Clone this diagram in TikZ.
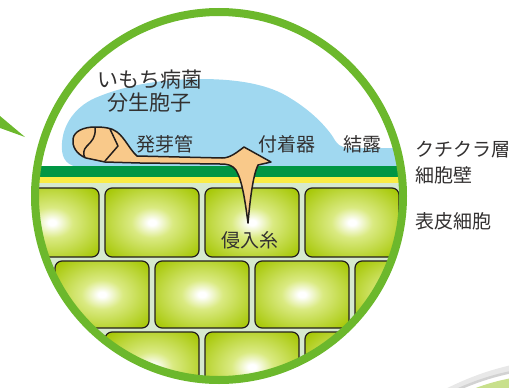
\documentclass[tikz,border=0pt]{standalone}
\usepackage{fontspec}
\newfontfamily\jp{Noto Sans CJK JP}
\definecolor{ring}{RGB}{108,184,44}
\definecolor{dew}{RGB}{160,216,240}
\definecolor{cuticle}{RGB}{0,150,68}
\definecolor{wall}{RGB}{250,236,70}
\definecolor{tissue}{RGB}{214,233,206}
\definecolor{cellgreen}{RGB}{164,198,0}
\definecolor{cellmid}{RGB}{218,234,130}
\definecolor{fungus}{RGB}{249,201,138}
\definecolor{ink}{RGB}{35,30,28}
\definecolor{label}{RGB}{50,48,48}
\definecolor{leaf}{RGB}{200,224,140}
\pgfdeclareradialshading{cellglow}{\pgfpoint{0bp}{0bp}}{%
  color(0bp)=(white); color(2bp)=(white); color(11bp)=(cellmid);
  color(34bp)=(cellgreen); color(50bp)=(cellgreen)}
\begin{document}
\begin{tikzpicture}[x=1pt,y=-1pt,
  cell/.style={draw=ink,line width=1.2pt,rounded corners=7pt,shading=cellglow},
  lbl/.style={inner sep=0pt,text=label,font=\jp\fontsize{19}{23}\selectfont},
  biglbl/.style={inner sep=0pt,text=label,align=center,font=\jp\fontsize{21}{23}\selectfont},
  outline/.style={draw=ink,line width=1.5pt,line join=round}]
\useasboundingbox (0,0) rectangle (509,388);

% pointer wedge on the left
\fill[ring] (0,116) -- (25,137) -- (0,128) -- cycle;

% leaf edge in the lower right corner
\draw[gray!18,line width=6pt] (446,392) .. controls (470,380) and (490,373) .. (512,368);
\draw[gray!35,line width=2.5pt] (452,392) .. controls (474,382) and (492,376) .. (512,372);
\fill[white] (458,392) .. controls (478,383) and (494,378) .. (512,375) -- (512,392) -- cycle;
\fill[leaf] (466,392) .. controls (482,385) and (496,381) .. (512,378) -- (512,392) -- cycle;

% magnified cross-section
\begin{scope}
  \clip (219,196) circle[radius=182pt];
  % dew drop
  \fill[dew] (78,167) .. controls (64,165) and (61,155) .. (62,143)
    .. controls (63,125) and (75,105) .. (100,96)
    .. controls (125,86) and (160,79) .. (200,79)
    .. controls (240,79) and (270,85) .. (290,98)
    .. controls (310,110) and (325,125) .. (333,137)
    .. controls (337,144) and (340,148) .. (350,148)
    -- (410,148) -- (410,167) -- cycle;
  % cuticle, cell wall and tissue
  \fill[cuticle] (20,166) rectangle (420,177);
  \fill[wall] (20,177) rectangle (420,183);
  \fill[tissue] (20,183) rectangle (420,400);
  % epidermal cells
  \foreach \x in {5,105,205,305} \path[cell] (\x,188) rectangle ++(94,69);
  \foreach \x in {-45,55,155,255,355} \path[cell] (\x,261) rectangle ++(94,67);
  \foreach \x in {5,105,205,305} \path[cell] (\x,332) rectangle ++(94,70);
  % conidium, germ tube, appressorium and penetration peg
  \path[outline,fill=fungus] (105,162) -- (86,158)
    .. controls (76,154) and (72,146) .. (73,139)
    .. controls (74,131) and (84,127) .. (95,127)
    .. controls (104,127) and (112,128) .. (117,132)
    .. controls (125,138) and (130,150) .. (137,156)
    -- (222,158) .. controls (230,158) and (236,153) .. (244,147)
    -- (271,162) -- (258,165)
    .. controls (253,175) and (250,200) .. (248,223)
    .. controls (245,200) and (242,180) .. (236,170)
    .. controls (232,165) and (228,164) .. (220,164)
    -- (140,163) -- cycle;
  \draw[outline] (110,129) -- (118,146) -- (105,161);
  \draw[outline] (95,128) .. controls (96,137) and (92,141) .. (87,146)
    .. controls (83,150) and (83,154) .. (85,158);
\end{scope}
\draw[ring,line width=8pt] (219,196) circle[radius=184pt];

% labels
\node[biglbl] (conidium) at (149.5,91.5) {いもち病菌\\分生胞子};
\node[lbl] (germ) at (164.5,144) {発芽管};
\node[lbl] (appr) at (287,144) {付着器};
\node[lbl] (dewlbl) at (362,144) {結露};
\node[lbl] (peg) at (250,240) {侵入糸};
\node[lbl,anchor=west] (cut) at (415,150) {クチクラ層};
\node[lbl,anchor=west] (cwall) at (415,175) {細胞壁};
\node[lbl,anchor=west] (epi) at (415,221) {表皮細胞};
\end{tikzpicture}
\end{document}
